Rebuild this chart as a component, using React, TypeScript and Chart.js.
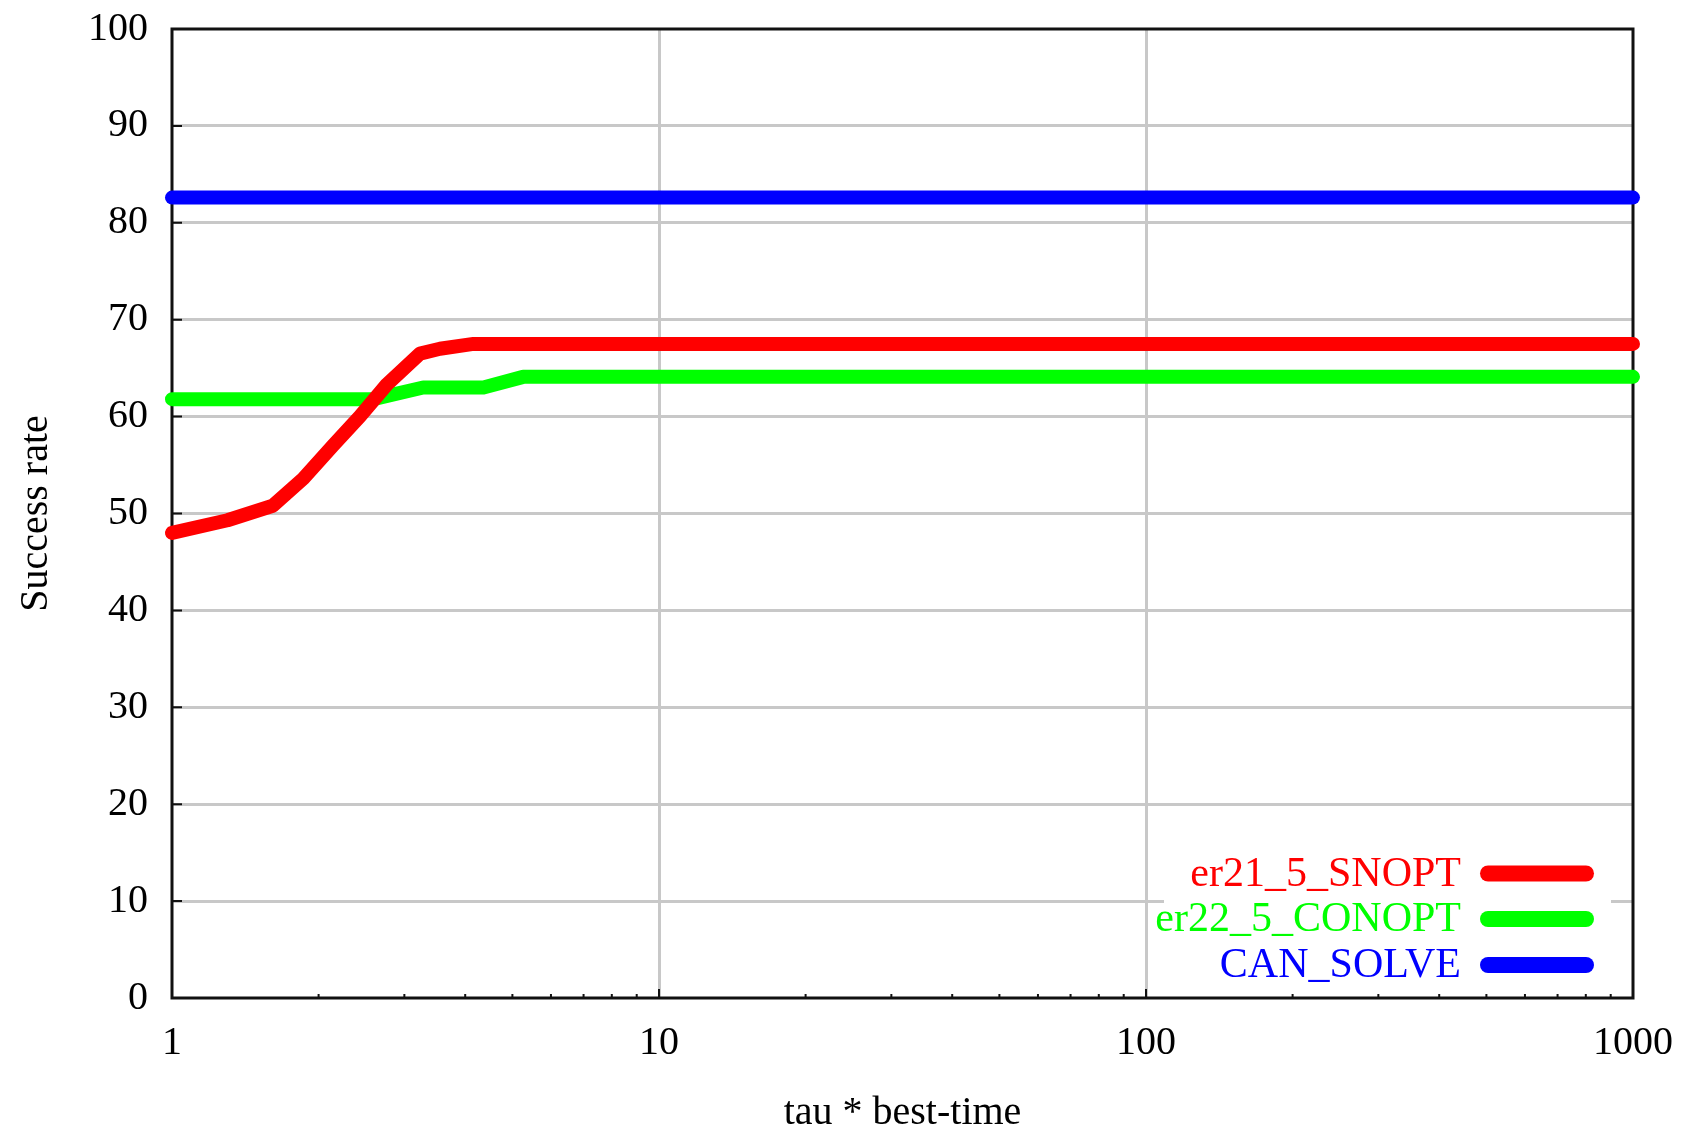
import React, { useEffect, useRef } from "react";
import { Chart, registerables } from "chart.js";

Chart.register(...registerables);

// ---- data ----
const seriesLabels = ["er21_5_SNOPT", "er22_5_CONOPT", "CAN_SOLVE"];
const seriesColors = ["#ff0000", "#00ff00", "#0000ff"];

const snoptX = [1, 1.3, 1.61, 1.86, 2.14, 2.43, 2.76, 3.23, 3.55, 4.16, 1000];
const snoptY = [48.0, 49.3, 50.8, 53.6, 57.0, 60.0, 63.3, 66.5, 67.0, 67.5, 67.5];

const conoptX = [1, 2.59, 3.28, 4.36, 5.26, 1000];
const conoptY = [61.8, 61.8, 63.0, 63.0, 64.1, 64.1];

const canSolveX = [1, 1000];
const canSolveY = [82.6, 82.6];

const xTickLabels = [1, 10, 100, 1000];
const yTickValues = [0, 10, 20, 30, 40, 50, 60, 70, 80, 90, 100];

const xTitle = "tau * best-time";
const yTitle = "Success rate";

// ---- style ----
const FONT = '"Liberation Serif", "DejaVu Serif", serif';
const GRID = "#c8c8c8";
const FRAME = "#111111";

const isPow10 = (v: number) => Math.abs(Math.log10(v) - Math.round(Math.log10(v))) < 1e-9;

const toPoints = (xs: number[], ys: number[]) => xs.map((x, i) => ({ x, y: ys[i] }));

const framePlugin = {
  id: "frameTicks",
  beforeDatasetsDraw(chart: any) {
    const { ctx, chartArea } = chart;
    const { left, right, top, bottom } = chartArea;
    const xs = chart.scales.x;
    const ys = chart.scales.y;
    ctx.save();
    ctx.strokeStyle = FRAME;
    ctx.lineWidth = 3;
    ctx.strokeRect(left, top, right - left, bottom - top);
    ctx.lineWidth = 2;
    ctx.beginPath();
    yTickValues.forEach((v) => {
      if (v === 0 || v === 100) return;
      const p = ys.getPixelForValue(v);
      ctx.moveTo(left, p);
      ctx.lineTo(left + 10, p);
    });
    [1, 10, 100].forEach((d) => {
      for (let k = 2; k <= 9; k++) {
        const p = xs.getPixelForValue(k * d);
        ctx.moveTo(p, bottom);
        ctx.lineTo(p, bottom - 4);
      }
    });
    [10, 100].forEach((v) => {
      const p = xs.getPixelForValue(v);
      ctx.moveTo(p, bottom);
      ctx.lineTo(p, bottom - 9);
    });
    ctx.stroke();
    ctx.restore();
  },
};

const legendPlugin = {
  id: "cornerLegend",
  afterDatasetsDraw(chart: any) {
    const { ctx, chartArea } = chart;
    const { right, bottom } = chartArea;
    ctx.save();
    ctx.fillStyle = "#ffffff";
    ctx.fillRect(right - 469, bottom - 153, 447, 145);
    const rows = [bottom - 124.5, bottom - 79, bottom - 33];
    ctx.font = `42px ${FONT}`;
    ctx.textAlign = "right";
    ctx.textBaseline = "middle";
    chart.data.datasets.forEach((ds: any, i: number) => {
      const y = rows[i];
      ctx.fillStyle = ds.borderColor;
      ctx.fillText(ds.label, right - 172, y + 1);
      ctx.strokeStyle = ds.borderColor;
      ctx.lineWidth = 16;
      ctx.lineCap = "round";
      ctx.beginPath();
      ctx.moveTo(right - 145, y);
      ctx.lineTo(right - 47, y);
      ctx.stroke();
    });
    ctx.restore();
  },
};

export default function App() {
  const ref = useRef<HTMLCanvasElement>(null);

  useEffect(() => {
    const canvas = ref.current;
    if (!canvas) return;
    const xsList = [snoptX, conoptX, canSolveX];
    const ysList = [snoptY, conoptY, canSolveY];
    const chart = new Chart(canvas, {
      type: "line",
      data: {
        datasets: seriesLabels.map((label, i) => ({
          label,
          data: toPoints(xsList[i], ysList[i]),
          borderColor: seriesColors[i],
          backgroundColor: seriesColors[i],
          borderWidth: 14,
          pointRadius: 0,
          tension: 0,
          fill: false,
          borderCapStyle: "round",
          borderJoinStyle: "round",
          clip: false,
        })),
      },
      options: {
        animation: false,
        responsive: false,
        devicePixelRatio: 1,
        layout: { padding: { top: 29, right: 58, left: 0, bottom: 0 } },
        plugins: {
          legend: { display: false },
          tooltip: { enabled: false },
        },
        scales: {
          x: {
            type: "logarithmic",
            position: "bottom",
            min: 1,
            max: 1000,
            border: { display: false },
            grid: {
              drawTicks: false,
              lineWidth: 3,
              color: (c: any) => {
                const v = c.tick && c.tick.value;
                if (v === undefined) return "rgba(0,0,0,0)";
                return isPow10(v) && v !== 1 && v !== 1000 ? GRID : "rgba(0,0,0,0)";
              },
            },
            ticks: {
              autoSkip: false,
              maxRotation: 0,
              minRotation: 0,
              padding: 21.5,
              color: "#000",
              font: { family: FONT, size: 40 },
              callback: (v: any) => (xTickLabels.some((t) => Math.abs(t - Number(v)) < 1e-9) ? String(v) : ""),
            },
            title: {
              display: true,
              text: xTitle,
              color: "#000",
              font: { family: FONT, size: 40, lineHeight: 0.7 },
              padding: 0,
            },
            afterFit: (s: any) => {
              s.height = 129;
              s.paddingLeft = 0;
              s.paddingRight = 0;
              s.paddingTop = 0;
              s.paddingBottom = 0;
            },
          },
          y: {
            type: "linear",
            min: 0,
            max: 100,
            border: { display: false },
            grid: {
              drawTicks: false,
              lineWidth: 3,
              color: (c: any) => {
                const v = c.tick && c.tick.value;
                return v === 0 || v === 100 ? "rgba(0,0,0,0)" : GRID;
              },
            },
            ticks: {
              stepSize: 10,
              autoSkip: false,
              padding: 24,
              color: "#000",
              font: { family: FONT, size: 40 },
            },
            title: {
              display: true,
              text: yTitle,
              color: "#000",
              font: { family: FONT, size: 40, lineHeight: 1 },
              padding: { top: 16, bottom: 0 },
            },
            afterFit: (s: any) => {
              s.width = 172;
              s.paddingLeft = 0;
              s.paddingRight = 0;
              s.paddingTop = 0;
              s.paddingBottom = 0;
            },
          },
        },
      },
      plugins: [framePlugin, legendPlugin],
    } as any);
    return () => chart.destroy();
  }, []);

  return (
    <div style={{ position: "fixed", left: 0, top: 0, width: 1691, height: 1127, background: "#ffffff" }}>
      <canvas ref={ref} width={1691} height={1127} style={{ display: "block" }} />
    </div>
  );
}
